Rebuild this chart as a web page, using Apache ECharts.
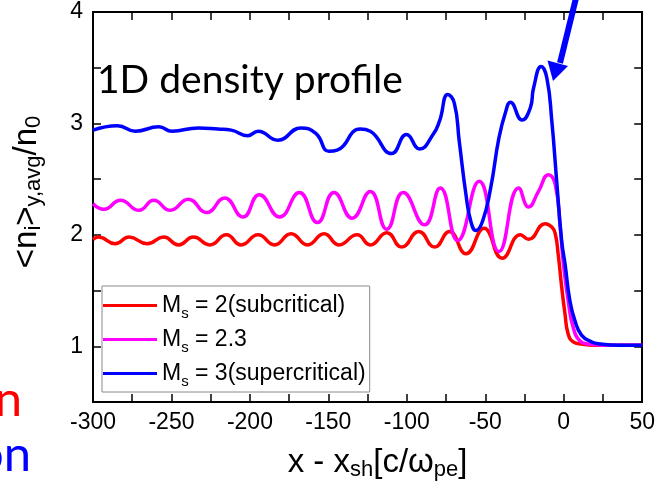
<!DOCTYPE html>
<html>
<head>
<meta charset="utf-8">
<script src="https://cdn.jsdelivr.net/npm/echarts@6/dist/echarts.min.js"></script>
<style>
html,body{margin:0;padding:0;background:#fff;}
#chart{width:658px;height:486px;}
</style>
</head>
<body>
<div id="chart"></div>
<script>
// ---- data ----
const seriesNames = ['Ms = 2(subcritical)', 'Ms = 2.3', 'Ms = 3(supercritical)'];
const seriesColors = ['#ff0000', '#ff00ff', '#0000ff'];

const redX = [-300, -296.5, -286, -277, -265.5, -255, -245.5, -236, -225.6, -215, -205.6, -194.8, -184.3, -173.8, -163.3, -152.7, -143.3, -131.7, -123.3, -112.8, -103.3, -92.4, -82.3, -72.9, -62.3, -50.8, -39.2, -27.6, -22.4, -11.9, -7.6, -5.4, -3.5, -1.3, 0.8, 2.8, 6.0, 11.3, 20, 30, 40, 50];
const redY = [1.96, 1.98, 1.92, 1.98, 1.92, 1.98, 1.91, 1.98, 1.91, 2.00, 1.91, 2.00, 1.91, 2.01, 1.91, 2.01, 1.91, 2.00, 1.91, 2.02, 1.89, 2.03, 1.89, 2.03, 1.83, 2.06, 1.79, 2.00, 1.96, 2.10, 2.07, 2.01, 1.82, 1.53, 1.29, 1.11, 1.04, 1.02, 1.01, 1.01, 1.01, 1.01];

const magX = [-300, -293, -282.5, -270.7, -261.3, -250.8, -239.2, -227.6, -216.1, -204.5, -194.0, -181.1, -168.5, -157.0, -146.4, -134.9, -123.3, -112.8, -102.3, -88.7, -78.7, -67.6, -53.9, -41.3, -28.7, -22.4, -16.1, -9.8, -5.4, -2.2, -0.3, 2.8, 6.0, 10.2, 15.5, 25, 35, 50];
const magY = [2.28, 2.23, 2.31, 2.22, 2.31, 2.22, 2.32, 2.20, 2.33, 2.16, 2.36, 2.16, 2.38, 2.11, 2.38, 2.15, 2.39, 2.05, 2.38, 2.09, 2.42, 1.95, 2.48, 1.85, 2.42, 2.25, 2.39, 2.54, 2.45, 2.06, 1.75, 1.41, 1.17, 1.05, 1.02, 1.01, 1.01, 1.01];

const blueX = [-300, -284.4, -272.9, -258.1, -249.7, -232.9, -220.3, -211.9, -201.3, -194.8, -182.2, -167.5, -158.0, -149.6, -144.4, -129.7, -123.3, -109.7, -100.2, -91.8, -83.3, -79.2, -73.9, -69.7, -66.6, -62.3, -59.2, -56.0, -51.8, -46.6, -41.3, -37.1, -34.0, -26.6, -21.3, -19.2, -14.4, -10.8, -7.6, -4.5, -1.3, 0.8, 3.9, 7.1, 11.3, 17.6, 23.9, 35, 50];
const blueY = [2.94, 2.98, 2.93, 2.97, 2.93, 2.96, 2.95, 2.94, 2.89, 2.93, 2.85, 2.96, 2.91, 2.75, 2.76, 2.95, 2.93, 2.73, 2.90, 2.77, 2.90, 3.02, 3.26, 3.18, 2.84, 2.36, 2.12, 2.04, 2.12, 2.42, 2.87, 3.10, 3.19, 3.03, 3.14, 3.32, 3.51, 3.41, 3.02, 2.48, 1.94, 1.74, 1.41, 1.23, 1.10, 1.04, 1.02, 1.01, 1.01];

const xMin = -300, xMax = 50, xStep = 25, xLabelStep = 50;
const yMin = 0.5, yMax = 4, yStep = 0.5;

const titleText = '1D density profile';
const sideTexts = ['n', 'on'];

// ---- build ----
const zip = (xs, ys) => xs.map((x, i) => [x, ys[i]]);
const allData = [zip(redX, redY), zip(magX, magY), zip(blueX, blueY)];

const AX = 'Liberation Sans, Arial, sans-serif';
const subRich = {
  m: {fontFamily: AX, fontSize: 33, color: '#000'},
  s: {fontFamily: AX, fontSize: 22, color: '#000', padding: [14, 0, 0, 0]}
};

const chart = echarts.init(document.getElementById('chart'), null, {renderer: 'canvas'});

const axisLineStyle = {color: '#000', width: 2};
const tickStyle = {inside: true, length: 8, lineStyle: {color: '#000', width: 1.5}};

const option = {
  backgroundColor: '#fff',
  animation: false,
  title: {
    text: titleText,
    left: 97,
    top: 61,
    padding: 0,
    textStyle: {fontFamily: 'Lato', fontSize: 39, fontWeight: 'normal', color: '#000'}
  },
  grid: {left: 93, right: 10, top: 12, bottom: 83, containLabel: false},
  legend: {
    data: seriesNames,
    orient: 'vertical',
    left: 102,
    top: 286,
    width: 268,
    backgroundColor: '#fff',
    borderColor: '#8a8a8a',
    borderWidth: 1,
    padding: [4, 4, 3, 1],
    itemGap: 3,
    icon: 'rect',
    itemWidth: 54,
    itemHeight: 3,
    formatter: name => '{m|M}{s|s}{m|' + name.slice(2) + '}',
    textStyle: {
      fontFamily: AX, fontSize: 23, color: '#000',
      rich: {
        m: {fontFamily: AX, fontSize: 23, color: '#000', lineHeight: 28},
        s: {fontFamily: AX, fontSize: 15, color: '#000', lineHeight: 15, padding: [16, 0, 0, 0]}
      }
    }
  },
  xAxis: [{
    type: 'value', min: xMin, max: xMax, interval: xStep, position: 'bottom',
    axisLine: {onZero: false, lineStyle: axisLineStyle},
    axisTick: tickStyle,
    splitLine: {show: false},
    axisLabel: {
      formatter: v => (v % xLabelStep === 0 ? String(v) : ''),
      fontFamily: AX, fontSize: 23, color: '#000', margin: 9
    },
    name: '{m|x - x}{s|sh}{m|[c/ω}{s|pe}{m|]}',
    nameLocation: 'middle',
    nameGap: 43,
    nameTextStyle: {rich: subRich, padding: [0, 0, 0, 20]}
  }, {
    type: 'value', min: xMin, max: xMax, interval: xStep, position: 'top',
    axisLine: {onZero: false, lineStyle: axisLineStyle},
    axisTick: tickStyle,
    splitLine: {show: false},
    axisLabel: {show: false}
  }],
  yAxis: [{
    type: 'value', min: yMin, max: yMax, interval: yStep, position: 'left',
    axisLine: {onZero: false, lineStyle: axisLineStyle},
    axisTick: tickStyle,
    splitLine: {show: false},
    axisLabel: {
      formatter: v => (Number.isInteger(v) ? String(v) : ''),
      fontFamily: AX, fontSize: 23, color: '#000', margin: 10
    },
    name: '{m|<n}{s|i}{m|>}{s|y,avg}{m|/n}{s|0}',
    nameLocation: 'middle',
    nameRotate: 90,
    nameGap: 48,
    nameTextStyle: {rich: subRich, padding: [0, 0, 0, 30]}
  }, {
    type: 'value', min: yMin, max: yMax, interval: yStep, position: 'right',
    axisLine: {onZero: false, lineStyle: axisLineStyle},
    axisTick: tickStyle,
    splitLine: {show: false},
    axisLabel: {show: false}
  }],
  series: allData.map((d, i) => ({
    name: seriesNames[i],
    type: 'line',
    data: d,
    xAxisIndex: 0,
    yAxisIndex: 0,
    showSymbol: false,
    symbol: 'none',
    smooth: 0.5,
    lineStyle: {color: seriesColors[i], width: 3.5},
    itemStyle: {color: seriesColors[i]},
    z: 2 + i
  })),
  graphic: [
    {type: 'polyline', z: 100, shape: {points: [[577, -6], [560, 63]]},
      style: {stroke: '#0000ff', lineWidth: 6, fill: null}},
    {type: 'polygon', z: 100, shape: {points: [[547.5, 60.5], [568, 66], [553, 81]]},
      style: {fill: '#0000ff'}},
    {type: 'text', z: 100, style: {text: sideTexts[0], x: 22, y: 425, textAlign: 'right', textVerticalAlign: 'bottom',
      fill: '#ff0000', font: '49px Lato'}},
    {type: 'text', z: 100, style: {text: sideTexts[1], x: 31, y: 480, textAlign: 'right', textVerticalAlign: 'bottom',
      fill: '#0000ff', font: '49px Lato'}}
  ]
};
chart.setOption(option);
</script>
</body>
</html>
